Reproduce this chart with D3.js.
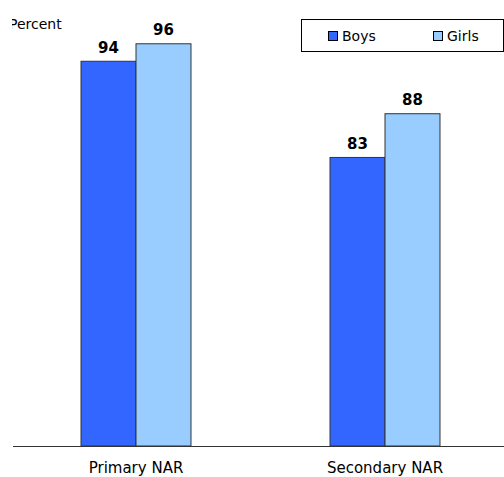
<!DOCTYPE html>
<html>
<head>
<meta charset="utf-8">
<script src="https://cdn.jsdelivr.net/npm/d3@7"></script>
<style>
  html, body { margin: 0; padding: 0; background: #fff; }
  svg { display: block; font-family: "DejaVu Sans", Verdana, sans-serif; }
</style>
</head>
<body>
<svg id="chart" width="504" height="477"></svg>
<script>
const categories = ["Primary NAR", "Secondary NAR"];
const seriesNames = ["Boys", "Girls"];
const boysValues = [94, 83];
const girlsValues = [96, 88];
const seriesColors = ["#3366FF", "#99CCFF"];
const yDomain = [50, 100];
const yAxisTitle = "Percent";

const svg = d3.select("#chart");
const baseY = 446;

const x0 = d3.scaleBand().domain(categories).range([11.5, 509.5]).padding(0);
const x1 = d3.scaleBand().domain(seriesNames).range([0, x0.bandwidth()])
  .paddingInner(0).paddingOuter(1.264);
const y = d3.scaleLinear().domain(yDomain).range([baseY, 8.8]);

const data = categories.map((c, i) => ({
  cat: c,
  vals: [
    { s: seriesNames[0], v: boysValues[i], color: seriesColors[0] },
    { s: seriesNames[1], v: girlsValues[i], color: seriesColors[1] }
  ]
}));

// y axis title (clipped at left like the original)
svg.append("clipPath").attr("id", "titleClip")
  .append("rect").attr("x", 12).attr("y", 0).attr("width", 100).attr("height", 40);
svg.append("text")
  .attr("clip-path", "url(#titleClip)")
  .attr("x", 9).attr("y", 29)
  .attr("font-size", 14).attr("fill", "#000")
  .text(yAxisTitle);

// bars
const groups = svg.selectAll("g.grp").data(data).enter().append("g")
  .attr("class", "grp")
  .attr("transform", d => `translate(${x0(d.cat)},0)`);

groups.selectAll("rect").data(d => d.vals).enter().append("rect")
  .attr("x", d => x1(d.s))
  .attr("y", d => y(d.v))
  .attr("width", x1.bandwidth())
  .attr("height", d => baseY - y(d.v))
  .attr("fill", d => d.color)
  .attr("stroke", "#333")
  .attr("stroke-width", 1);

groups.selectAll("text.val").data(d => d.vals).enter().append("text")
  .attr("class", "val")
  .attr("x", d => x1(d.s) + x1.bandwidth() / 2)
  .attr("y", d => y(d.v) - 8.7)
  .attr("text-anchor", "middle")
  .attr("font-size", 15).attr("font-weight", "bold").attr("fill", "#000")
  .text(d => d.v);

// x axis
const xAxis = d3.axisBottom(x0).tickSize(0).tickPadding(16.5);
const gx = svg.append("g").attr("transform", `translate(0,${baseY})`).call(xAxis);
gx.select(".domain").attr("d", "M13,0.5H504").attr("stroke", "#333").attr("stroke-width", 1);
gx.selectAll("text").attr("font-size", 15).attr("fill", "#000")
  .attr("font-family", "DejaVu Sans, Verdana, sans-serif");

// legend
const lg = svg.append("g");
lg.append("rect").attr("x", 301.5).attr("y", 19.5).attr("width", 202).attr("height", 32)
  .attr("fill", "#fff").attr("stroke", "#000").attr("stroke-width", 1);
const legendX = [328, 433];
seriesNames.forEach((s, i) => {
  lg.append("rect").attr("x", legendX[i] + 0.5).attr("y", 31.5).attr("width", 9).attr("height", 9)
    .attr("fill", seriesColors[i]).attr("stroke", "#000").attr("stroke-width", 1);
  lg.append("text").attr("x", legendX[i] + 14).attr("y", 41)
    .attr("font-size", 14).attr("fill", "#000").text(s);
});
</script>
</body>
</html>
